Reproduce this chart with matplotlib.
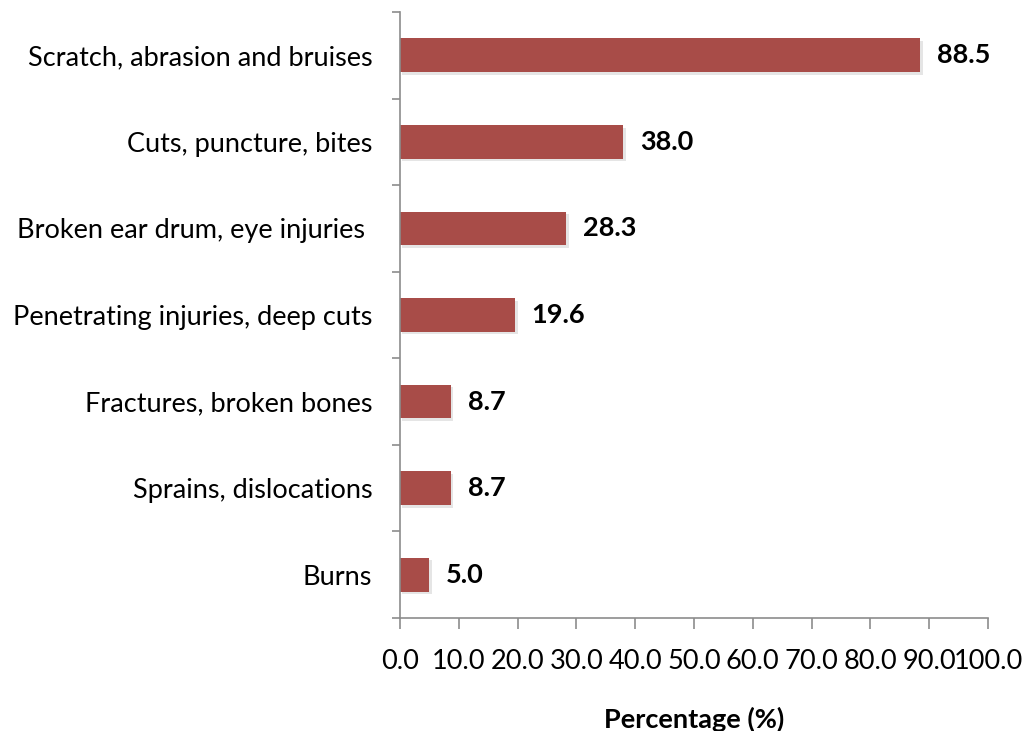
import numpy as np
import matplotlib.pyplot as plt

# injury categories (top to bottom) and share of respondents in %
categories = ['Scratch, abrasion and bruises', 'Cuts, puncture, bites',
              'Broken ear drum, eye injuries ', 'Penetrating injuries, deep cuts',
              'Fractures, broken bones', 'Sprains, dislocations', 'Burns']
values = [88.5, 38.0, 28.3, 19.6, 8.7, 8.7, 5.0]
x_ticks = [0, 10, 20, 30, 40, 50, 60, 70, 80, 90, 100]

plt.rcParams['font.family'] = ['Lato', 'DejaVu Sans']
bar_color = '#A84C48'
spine_color = '#8C8C8C'
fs = 19.5

fig = plt.figure(figsize=(10.24, 7.31), dpi=100)
ax = fig.add_axes([0.3906, 0.1546, 0.5742, 0.829])

pos = np.arange(len(categories))
# soft shadow under the bars
ax.barh(pos + 0.03, values, height=0.39, left=0.4, color='#000000', alpha=0.10, zorder=1)
ax.barh(pos, values, height=0.39, color=bar_color, zorder=2)
for p, v in zip(pos, values):
    ax.text(v + 2.8, p, f'{v:.1f}', va='center', ha='left', fontsize=fs,
            fontweight='bold', color='black')

ax.set_ylim(len(categories) - 0.5, -0.5)
ax.set_xlim(0, 100)

ax.set_yticks(np.arange(-0.5, len(categories)), labels=[])
ax.set_yticks(pos, labels=categories, minor=True)
ax.tick_params(axis='y', which='major', direction='out', length=6, color=spine_color, width=1.2)
ax.tick_params(axis='y', which='minor', length=0, labelsize=fs, pad=20)

ax.set_xticks(x_ticks, labels=[f'{t:.1f}' for t in x_ticks])
ax.tick_params(axis='x', direction='out', length=8, color=spine_color, width=1.2,
               labelsize=fs, pad=14)
ax.set_xlabel('Percentage (%)', fontsize=fs, fontweight='bold', labelpad=24)

for s in ['top', 'right']:
    ax.spines[s].set_visible(False)
for s in ['left', 'bottom']:
    ax.spines[s].set_color(spine_color)
    ax.spines[s].set_linewidth(1.2)

fig.savefig('out.png', dpi=100)
